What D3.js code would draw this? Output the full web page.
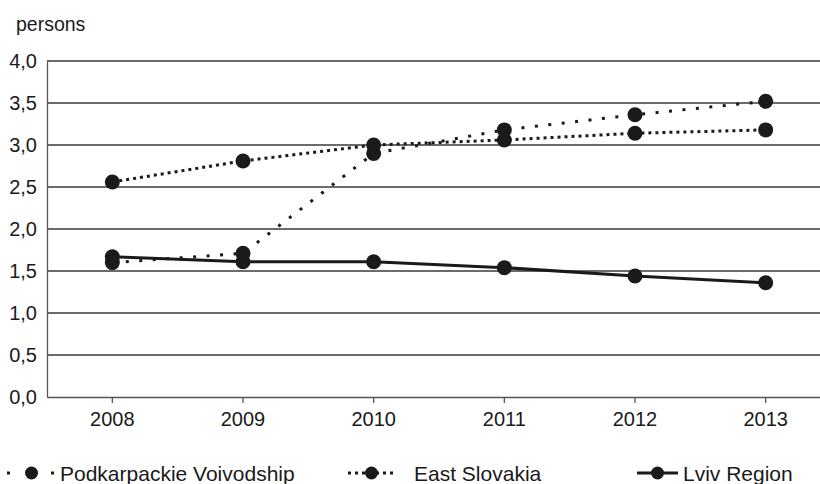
<!DOCTYPE html>
<html>
<head>
<meta charset="utf-8">
<script src="https://cdn.jsdelivr.net/npm/d3@7"></script>
<style>
    body { margin: 0; background: #fff; }
    text { font-family: "Liberation Sans", Arial, sans-serif; fill: #1a1a1a; }
</style>
</head>
<body>
<div id="chart"></div>
<script>
// Data
const years = ["2008", "2009", "2010", "2011", "2012", "2013"];
const podkarpackie = [1.60, 1.71, 2.90, 3.18, 3.36, 3.52];
const eastSlovakia = [2.56, 2.81, 3.00, 3.06, 3.14, 3.18];
const lviv = [1.67, 1.61, 1.61, 1.54, 1.44, 1.36];
const yTicks = [0, 0.5, 1, 1.5, 2, 2.5, 3, 3.5, 4];

const seriesList = [
    { name: "Podkarpackie Voivodship", values: podkarpackie, dash: "3,10.5", legendDash: "3,19" },
    { name: "East Slovakia", values: eastSlovakia, dash: "3,4", legendDash: "3,4" },
    { name: "Lviv Region", values: lviv, dash: null, legendDash: null }
];

// Dimensions
const W = 820, H = 484;
const margin = { top: 61, left: 47, bottom: 87 };
const plotRight = 831;

const svg = d3.select("#chart")
    .append("svg")
    .attr("width", W)
    .attr("height", H);

// Scales
const x = d3.scaleBand()
    .domain(years)
    .range([margin.left, plotRight]);

const y = d3.scaleLinear()
    .domain([0, 4])
    .range([H - margin.bottom, margin.top]);

const fmt = d => d.toFixed(1).replace(".", ",");

// Gridlines
svg.append("g")
    .selectAll("line")
    .data(yTicks.filter(d => d > 0))
    .join("line")
    .attr("x1", margin.left)
    .attr("x2", plotRight)
    .attr("y1", d => y(d))
    .attr("y2", d => y(d))
    .attr("stroke", "#3a3a3a")
    .attr("stroke-width", 1.3);

// Y axis
const yAxis = svg.append("g")
    .attr("transform", `translate(${margin.left},0)`)
    .call(d3.axisLeft(y).tickValues(yTicks).tickFormat(fmt).tickSize(0).tickPadding(10));
yAxis.select(".domain").attr("stroke", "#555").attr("stroke-width", 1.3);
yAxis.selectAll("text")
    .style("font-size", "20px")
    .style("font-family", "'Liberation Sans', Arial, sans-serif")
    .attr("fill", "#1a1a1a");

// X axis
const xAxis = svg.append("g")
    .attr("transform", `translate(0,${y(0)})`)
    .call(d3.axisBottom(x).tickSizeInner(6).tickSizeOuter(0).tickPadding(9));
xAxis.select(".domain").attr("stroke", "#555").attr("stroke-width", 1.3);
xAxis.selectAll(".tick line").attr("stroke", "#555").attr("stroke-width", 1.3);
xAxis.selectAll("text")
    .style("font-size", "20px")
    .style("font-family", "'Liberation Sans', Arial, sans-serif")
    .attr("fill", "#1a1a1a");

// Unit label
svg.append("text")
    .attr("x", 16)
    .attr("y", 31)
    .style("font-size", "19.5px")
    .text("persons");

// Lines
const line = d3.line()
    .x((d, i) => x(years[i]) + x.bandwidth() / 2)
    .y(d => y(d));

seriesList.forEach(s => {
    svg.append("path")
        .datum(s.values)
        .attr("fill", "none")
        .attr("stroke", "#1a1a1a")
        .attr("stroke-width", 3)
        .attr("stroke-dasharray", s.dash)
        .attr("d", line);
});

seriesList.forEach(s => {
    svg.append("g")
        .selectAll("circle")
        .data(s.values)
        .join("circle")
        .attr("cx", (d, i) => x(years[i]) + x.bandwidth() / 2)
        .attr("cy", d => y(d))
        .attr("r", 7.5)
        .attr("fill", "#1a1a1a");
});

// Legend
const legendY = 473;
const legendItems = [
    { s: seriesList[0], x0: 7, x1: 56, tx: 60 },
    { s: seriesList[1], x0: 348, x1: 395, tx: 414 },
    { s: seriesList[2], x0: 637, x1: 678, tx: 683 }
];

legendItems.forEach(li => {
    const g = svg.append("g");
    g.append("line")
        .attr("x1", li.x0)
        .attr("x2", li.x1)
        .attr("y1", legendY)
        .attr("y2", legendY)
        .attr("stroke", "#1a1a1a")
        .attr("stroke-width", 3)
        .attr("stroke-dasharray", li.s.legendDash);
    g.append("circle")
        .attr("cx", (li.x0 + li.x1) / 2)
        .attr("cy", legendY)
        .attr("r", 6.5)
        .attr("fill", "#1a1a1a");
    g.append("text")
        .attr("x", li.tx)
        .attr("y", legendY + 8)
        .style("font-size", "21px")
        .text(li.s.name);
});
</script>
</body>
</html>
